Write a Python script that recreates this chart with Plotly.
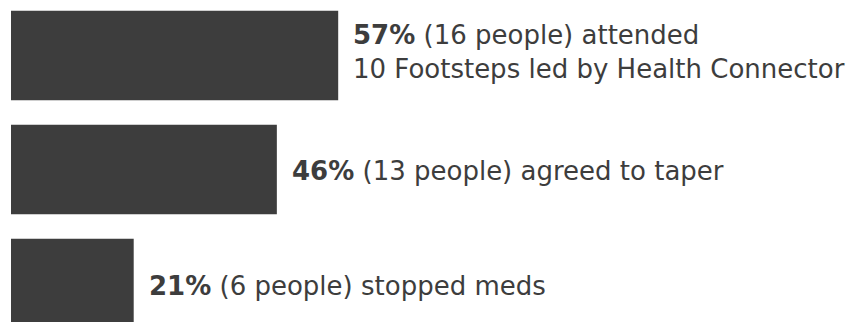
import plotly.graph_objects as go

# Data
positions = [0, 1, 2]
people = [16, 13, 6]          # bar lengths (people)
percent = ["57%", "46%", "21%"]
descriptions = [
    "(16 people) attended<br>10 Footsteps led by Health Connector",
    "(13 people) agreed to taper",
    "(6 people) stopped meds",
]

bar_color = "#3d3d3d"
text_color = "#3d3d3d"
font_family = "DejaVu Sans"

fig = go.Figure(
    go.Bar(
        x=people,
        y=positions,
        orientation="h",
        width=0.785,
        marker=dict(color=bar_color, line=dict(width=0)),
        hoverinfo="skip",
    )
)

yshifts = [4, -2, -3]
for p, v, pct, desc, ys in zip(positions, people, percent, descriptions, yshifts):
    fig.add_annotation(
        x=v, y=p, xref="x", yref="y",
        text=f"<b>{pct}</b> {desc}",
        showarrow=False,
        xanchor="left", yanchor="middle", align="left",
        xshift=13, yshift=ys,
        font=dict(family=font_family, size=26, color=text_color),
    )

fig.update_layout(
    width=856, height=322,
    margin=dict(l=11, r=0, t=0, b=0),
    paper_bgcolor="white", plot_bgcolor="white",
    showlegend=False,
    xaxis=dict(range=[0, 845 / 20.45], visible=False, fixedrange=True),
    yaxis=dict(range=[2.338, -0.487], visible=False, fixedrange=True),
)

fig.write_html("out.html")
